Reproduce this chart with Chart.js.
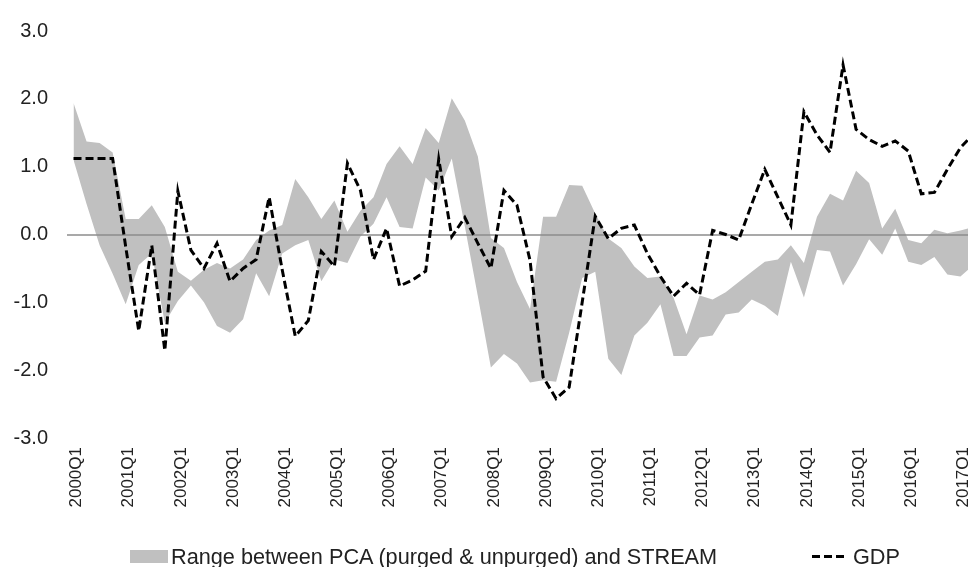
<!DOCTYPE html>
<html>
<head>
<meta charset="utf-8">
<script src="https://cdn.jsdelivr.net/npm/chart.js@4.4.1/dist/chart.umd.min.js"></script>
<style>
  html, body { margin: 0; padding: 0; background: #fff; overflow: hidden; width: 968px; height: 567px; }
  #wrap { position: relative; width: 990px; height: 567px; }
  #legend { position: absolute; left: 0; top: 0; width: 990px; height: 567px; pointer-events: none;
            font-family: "Liberation Sans", Arial, sans-serif; font-size: 21.7px; color: #222; }
  #legend .box { position: absolute; left: 130px; top: 550px; width: 38px; height: 13px; background: #c0c0c0; }
  #legend .dash { position: absolute; left: 812px; top: 555px; width: 32px; height: 3px;
                  background: repeating-linear-gradient(90deg, #000 0 8px, transparent 8px 12px); }
  #legend .txt { position: absolute; top: 544px; white-space: nowrap; line-height: 25px; }
</style>
</head>
<body>
<div id="wrap">
  <canvas id="chart" width="990" height="567"></canvas>
  <div id="legend">
    <span class="box"></span><span class="txt" style="left:171px">Range between PCA (purged &amp; unpurged) and STREAM</span>
    <span class="dash"></span><span class="txt" style="left:853px">GDP</span>
  </div>
</div>
<script>
// quarters 2000Q1 .. 2017Q2 (the last one sits just past the right edge of the picture)
var quarters = [];
for (var yr = 2000; yr <= 2017; yr++) {
  for (var q = 1; q <= 4; q++) quarters.push(yr + 'Q' + q);
}
quarters = quarters.slice(0, 70);

// upper and lower edge of the grey range
var bandHigh = [
  1.94, 1.37, 1.35, 1.21, 0.23, 0.23, 0.43, 0.11,
  -0.55, -0.68, -0.52, -0.42, -0.50, -0.37, -0.08, 0.06,
  0.14, 0.82, 0.55, 0.23, 0.50, 0.04, 0.35, 0.55,
  1.04, 1.30, 1.04, 1.57, 1.35, 2.01, 1.68, 1.15,
  -0.05, -0.20, -0.70, -1.10, 0.26, 0.26, 0.73, 0.72,
  0.31, -0.06, -0.20, -0.47, -0.64, -0.62, -0.93, -1.47,
  -0.90, -0.96, -0.85, -0.70, -0.55, -0.40, -0.37, -0.16,
  -0.42, 0.26, 0.60, 0.50, 0.94, 0.76, 0.09, 0.38,
  -0.08, -0.13, 0.07, 0.02, 0.06, 0.11
];
var bandLow = [
  1.10, 0.45, -0.16, -0.58, -1.03, -0.45, -0.28, -1.30,
  -0.98, -0.75, -1.00, -1.35, -1.45, -1.25, -0.57, -0.91,
  -0.28, -0.16, -0.08, -0.69, -0.37, -0.42, -0.03, 0.16,
  0.55, 0.11, 0.09, 0.84, 0.65, 1.12, 0.12, -0.91,
  -1.96, -1.76, -1.90, -2.18, -2.15, -2.17, -1.45, -0.64,
  -0.55, -1.83, -2.07, -1.49, -1.30, -1.03, -1.79, -1.79,
  -1.52, -1.49, -1.18, -1.15, -0.96, -1.05, -1.20, -0.40,
  -0.93, -0.23, -0.25, -0.75, -0.44, -0.07, -0.30, 0.09,
  -0.40, -0.45, -0.33, -0.59, -0.62, -0.45
];
var gdp = [
  1.12, 1.12, 1.12, 1.12, -0.18, -1.42, -0.16, -1.71,
  0.64, -0.23, -0.50, -0.13, -0.69, -0.50, -0.37, 0.55,
  -0.52, -1.50, -1.27, -0.25, -0.47, 1.05, 0.65, -0.37,
  0.09, -0.76, -0.67, -0.54, 1.11, -0.03, 0.25, -0.13,
  -0.50, 0.65, 0.43, -0.38, -2.10, -2.42, -2.25, -1.00,
  0.27, -0.06, 0.09, 0.14, -0.28, -0.62, -0.91, -0.72,
  -0.89, 0.06, 0.00, -0.08, 0.45, 0.96, 0.55, 0.14,
  1.81, 1.47, 1.21, 2.50, 1.55, 1.40, 1.30, 1.38,
  1.23, 0.60, 0.62, 0.96, 1.28, 1.48
];
var yTicks = [-3, -2, -1, 0, 1, 2, 3];

var FONT = '"Liberation Sans", Arial, sans-serif';

// grey zero line, drawn over the band but under the GDP line
var zeroLine = {
  id: 'zeroLine',
  beforeDatasetDraw: function(chart, args) {
    if (args.index !== 0) return;
    var a = chart.chartArea;
    var y = Math.round(chart.scales.y.getPixelForValue(0));
    var ctx = chart.ctx;
    ctx.save();
    ctx.strokeStyle = '#8c8c8c';
    ctx.lineWidth = 1.5;
    ctx.beginPath();
    ctx.moveTo(a.left, y);
    ctx.lineTo(a.right, y);
    ctx.stroke();
    ctx.restore();
  }
};

new Chart(document.getElementById('chart'), {
  type: 'line',
  data: {
    labels: quarters,
    datasets: [
      { label: 'GDP', data: gdp, borderColor: '#000', borderWidth: 3, borderDash: [8, 4],
        pointRadius: 0, tension: 0, fill: false, order: 0 },
      { label: 'Range high', data: bandHigh, borderColor: 'rgba(0,0,0,0)', backgroundColor: '#c0c0c0',
        pointRadius: 0, tension: 0, fill: '+1', order: 1 },
      { label: 'Range low', data: bandLow, borderColor: 'rgba(0,0,0,0)',
        pointRadius: 0, tension: 0, fill: false, order: 2 }
    ]
  },
  options: {
    responsive: false,
    animation: false,
    devicePixelRatio: 1,
    layout: { padding: { top: 27, right: 10, bottom: 0, left: 0 } },
    plugins: { legend: { display: false }, tooltip: { enabled: false } },
    scales: {
      x: {
        offset: true,
        grid: { display: false },
        border: { display: false },
        ticks: {
          autoSkip: false, maxRotation: 90, minRotation: 90, padding: 1, labelOffset: 3,
          color: '#222', font: { family: FONT, size: 17 },
          callback: function(v, i) {
            var s = quarters[i];
            return s.slice(-2) === 'Q1' ? s : null;
          }
        },
        afterFit: function(s) { s.height = 129; }
      },
      y: {
        min: yTicks[0], max: yTicks[yTicks.length - 1],
        grid: { display: false, drawTicks: false },
        border: { display: false },
        afterBuildTicks: function(s) { s.ticks = yTicks.map(function(v) { return { value: v }; }); },
        ticks: {
          padding: 19, color: '#222', font: { family: FONT, size: 20 },
          callback: function(v) { return Number(v).toFixed(1); }
        },
        afterFit: function(s) { s.width = 67; }
      }
    }
  },
  plugins: [zeroLine]
});
</script>
</body>
</html>
